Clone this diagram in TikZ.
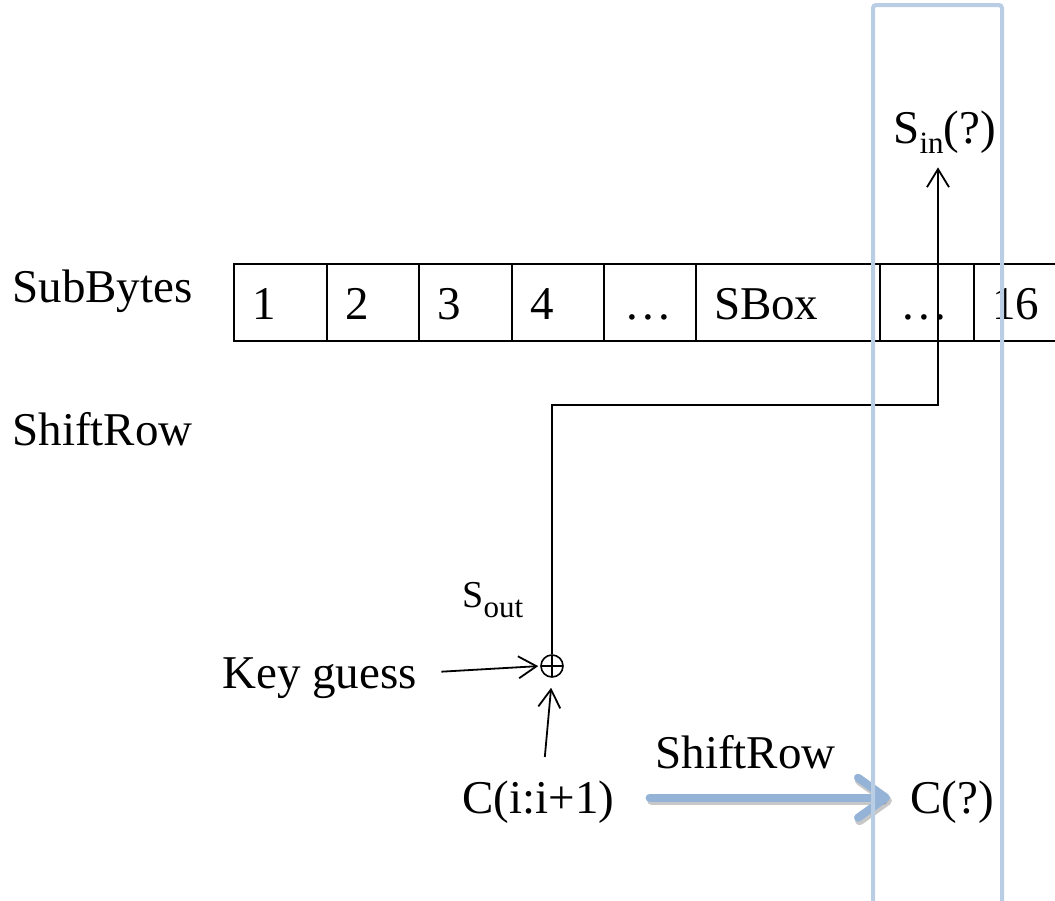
\documentclass[tikz,border=0pt]{standalone}
\usepackage{fontspec}
\setmainfont{Liberation Serif}
\usetikzlibrary{arrows.meta,calc}
\definecolor{boxblue}{RGB}{185,205,229}
\definecolor{arrblue}{RGB}{149,179,215}
\newcommand{\bdots}{.\kern2.2pt.\kern2.2pt.}
\begin{document}
\begin{tikzpicture}[x=0.5pt,y=-0.5pt,
  lbl/.style={font=\fontsize{23.5}{28}\selectfont, inner sep=0pt, anchor=base west},
  cell/.style={draw, line width=1.1pt, outer sep=0pt, minimum height=38.5pt, anchor=north west,
    inner xsep=9pt, align=left, text height=17pt, text depth=0pt, font=\fontsize{23.5}{28}\selectfont},
  arr/.style={-{Straight Barb[length=9pt,width=11pt]}, line width=0.9pt},
  bigarr/.style={-{Straight Barb[length=14pt,width=20pt,line width=4pt,round]}, line width=4pt,
    color=arrblue, line cap=round},
  shadowarr/.style={-{Straight Barb[length=14pt,width=20pt,line width=4.5pt,round]}, line width=4.5pt,
    draw=black, opacity=0.22, line cap=round},
  xorc/.style={circle, draw, line width=0.8pt, minimum size=11pt, inner sep=0pt,
    path picture={\draw[line width=0.8pt] (path picture bounding box.north) -- (path picture bounding box.south)
      (path picture bounding box.west) -- (path picture bounding box.east);}},
  colbox/.style={draw=boxblue, line width=2pt, rounded corners=1.5pt}
]
\useasboundingbox (0,0) rectangle (1055,900);
\clip (0,0) rectangle (1055,900);

% labels
\node[lbl] (subbytes) at (12,302) {SubBytes};
\node[lbl] (shiftrow) at (12,445) {ShiftRow};

% table
\node[cell, minimum width=46.5pt, text width=28.5pt] (c1) at (234,264) {1};
\node[cell, minimum width=46pt, text width=28pt] (c2) at (327,264) {2};
\node[cell, minimum width=46.5pt, text width=28.5pt] (c3) at (419,264) {3};
\node[cell, minimum width=46pt, text width=28pt] (c4) at (512,264) {4};
\node[cell, minimum width=46pt, text width=28pt] (c5) at (604,264) {\kern2pt\bdots};
\node[cell, minimum width=92pt, text width=74pt] (c6) at (696,264) {SBox};
\node[cell, minimum width=47pt, text width=29pt] (c7) at (880,264) {\kern2pt\bdots};
\node[cell, minimum width=45pt, text width=27pt] (c8) at (974,264) {16};

% texts
\node[lbl] (sin) at (893,143) {S\raisebox{-5pt}{\fontsize{15.5}{18}\selectfont in}(?)};
\node[lbl] (sout) at (462,607) {{\fontsize{19}{22}\selectfont S}\raisebox{-5pt}{\fontsize{15.5}{18}\selectfont out}};
\node[xorc] (xor) at (552,666) {};
\node[lbl] (key) at (222,688) {Key guess};
\node[lbl] (cii) at (462,813) {C(i:i+1)};
\node[lbl] (shiftlbl) at (655,768) {ShiftRow};
\node[lbl] (cq) at (910,813) {C(?)};

% connectors
\coordinate (turn) at (938,405);
\draw[arr, shorten >=7pt] (xor.north) |- (turn) -- (turn |- sin.south);
\draw[arr, shorten >=1pt] ([xshift=12pt,yshift=3pt]key.east) -- (xor.west);
\draw[arr, shorten >=5pt] ([xshift=3.25pt,yshift=11.5pt]cii.north) -- (xor.south);
\draw[shadowarr, shorten <=17.5pt, shorten >=10pt] ([xshift=1pt,yshift=0.5pt]cii.east) -- ([xshift=1pt,yshift=0.5pt]cq.west);
\draw[bigarr, shorten <=17.5pt, shorten >=10pt] ([yshift=2pt]cii.east) -- ([yshift=2pt]cq.west);

% highlighted column
\draw[colbox] (873,910) -- (873,5) -- (1002,5) -- (1002,910);
\end{tikzpicture}
\end{document}
